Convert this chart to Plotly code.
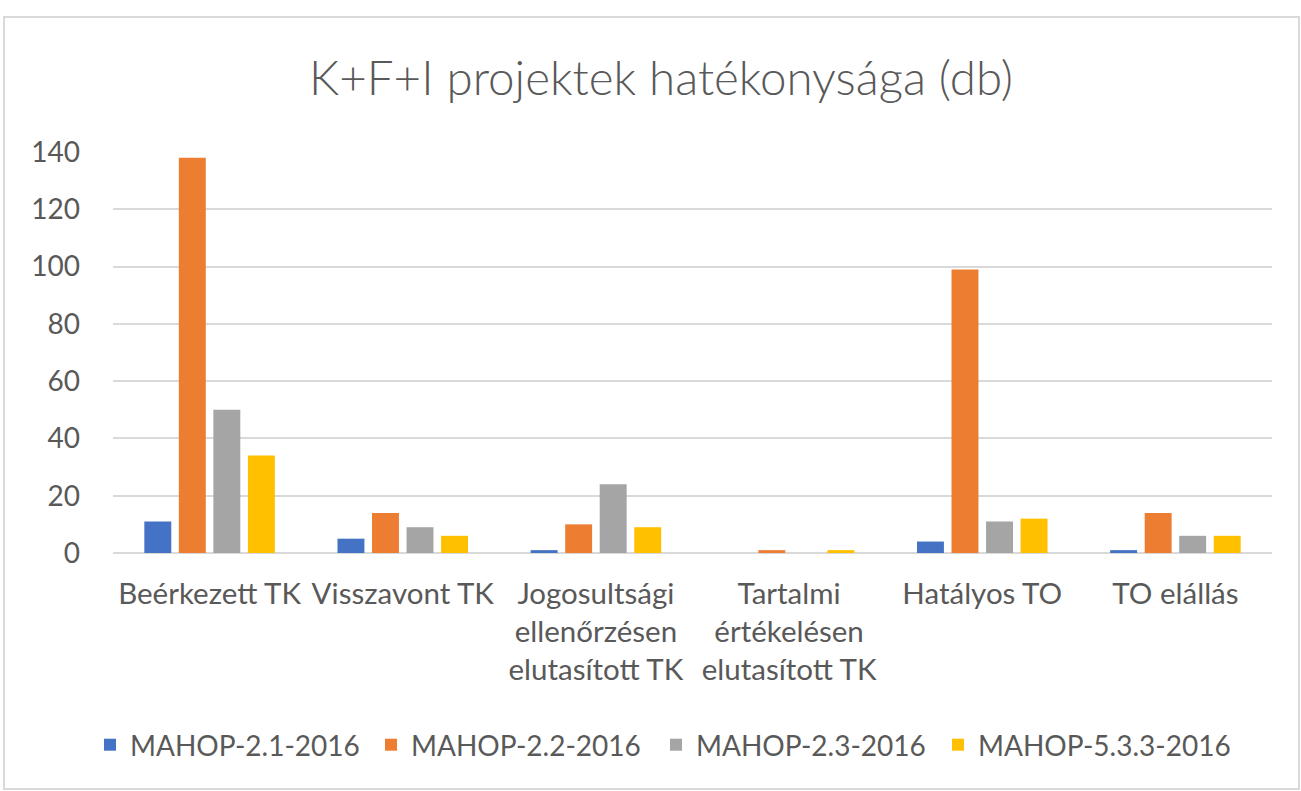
import plotly.graph_objects as go

categories = [
    "Beérkezett TK",
    "Visszavont TK",
    "Jogosultsági<br>ellenőrzésen<br>elutasított TK",
    "Tartalmi<br>értékelésen<br>elutasított TK",
    "Hatályos TO",
    "TO elállás",
]
series_names = ["MAHOP-2.1-2016", "MAHOP-2.2-2016", "MAHOP-2.3-2016", "MAHOP-5.3.3-2016"]
mahop_2_1 = [11, 5, 1, 0, 4, 1]
mahop_2_2 = [138, 14, 10, 1, 99, 14]
mahop_2_3 = [50, 9, 24, 0, 11, 6]
mahop_5_3_3 = [34, 6, 9, 1, 12, 6]
series_values = [mahop_2_1, mahop_2_2, mahop_2_3, mahop_5_3_3]
colors = ["#4472C4", "#ED7D31", "#A5A5A5", "#FFC000"]
y_ticks = [0, 20, 40, 60, 80, 100, 120, 140]

FONT = "Lato, 'Open Sans', sans-serif"
TXT = "#595959"
GRID = "#D9D9D9"

W, H = 1301, 791
ML, MR, MT, MB = 113, 29, 152, 238

def px_x(p):
    return (p - ML) / (W - ML - MR)

def px_y(p):
    return (H - MB - p) / (H - MT - MB)

legend_ids = ["legend", "legend2", "legend3", "legend4"]
legend_left_px = [90, 371, 656, 938]

fig = go.Figure()
for name, vals, col, lid in zip(series_names, series_values, colors, legend_ids):
    fig.add_trace(go.Bar(x=categories, y=vals, name=name, marker_color=col,
                         marker_line_width=0, legend=lid))

legend_layout = {}
for lid, lx in zip(legend_ids, legend_left_px):
    legend_layout[lid] = dict(orientation="h", x=px_x(lx), y=px_y(745),
                              xanchor="left", yanchor="middle",
                              font=dict(family=FONT, size=28, color=TXT),
                              bgcolor="rgba(0,0,0,0)")

fig.update_layout(
    width=W, height=H,
    margin=dict(l=ML, r=MR, t=MT, b=MB, pad=0),
    template="none",
    paper_bgcolor="white", plot_bgcolor="white",
    font=dict(family=FONT, color=TXT, size=28),
    title=dict(text="K+F+I projektek hatékonysága (db)",
               font=dict(family=FONT, size=47.5, color=TXT, weight=300),
               x=661 / W, xanchor="center", xref="container",
               y=1 - 78 / H, yanchor="middle", yref="container"),
    barmode="group", bargap=0.285, bargroupgap=0.22,
    showlegend=True,
    xaxis=dict(showgrid=False, showline=False, ticks="", tickfont=dict(size=29.5, color=TXT),
               ticklabelstandoff=20, tickangle=0),
    yaxis=dict(range=[0, 140], tickvals=y_ticks, showgrid=True, gridcolor=GRID, gridwidth=2,
               zeroline=True, zerolinecolor=GRID, zerolinewidth=2, showline=False, ticks="",
               tickfont=dict(size=28, color=TXT), ticklabelstandoff=32),
    shapes=[dict(type="rect", xref="paper", yref="paper",
                 x0=px_x(4), x1=px_x(1299), y0=px_y(789), y1=px_y(17),
                 line=dict(color=GRID, width=2), fillcolor="rgba(0,0,0,0)", layer="below")],
    **legend_layout,
)

fig.write_html("out.html", config={"displayModeBar": False},
               post_script="document.body.style.margin='0';")
